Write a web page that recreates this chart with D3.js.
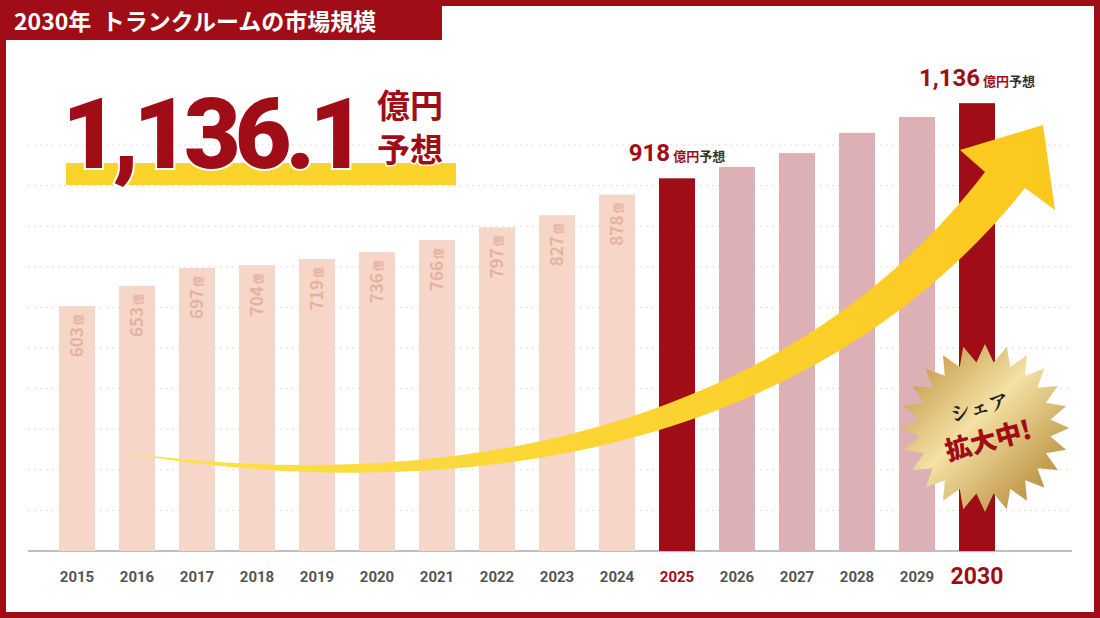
<!DOCTYPE html>
<html><head><meta charset="utf-8">
<script src="https://cdn.jsdelivr.net/npm/d3@7"></script>
<style>body{margin:0;background:#fff}svg{display:block;font-family:"Noto Sans CJK JP","Noto Sans",sans-serif}</style>
</head><body><svg id="c" width="1100" height="618"></svg>
<script>
const years = ['2015','2016','2017','2018','2019','2020','2021','2022','2023','2024','2025','2026','2027','2028','2029','2030'];
const values = [603,653,697,704,719,736,766,797,827,878,918,946,980,1030,1069,1103];
const showLabel = [true,true,true,true,true,true,true,true,true,true,false,false,false,false,false,false];
const gridTicks = [100,200,300,400,500,600,700,800,900,1000];

const svg = d3.select('#c');
const red = '#a00d16';
const x = d3.scaleBand().domain(years).range([47,1007]).paddingInner(0.4).paddingOuter(0.2);
const y = d3.scaleLinear().domain([0,1000]).range([551,145]);

// frame
svg.append('rect').attr('x',3).attr('y',3).attr('width',1094).attr('height',612)
  .attr('fill','none').attr('stroke',red).attr('stroke-width',6);
svg.append('rect').attr('x',0).attr('y',0).attr('width',442).attr('height',40).attr('fill',red);
svg.append('text').attr('x',14).attr('y',30).attr('fill','#fff').attr('font-size',23).attr('font-weight',700)
  .text('2030年  トランクルームの市場規模').attr('xml:space','preserve');

// grid
svg.append('g').selectAll('line').data(gridTicks).join('line')
  .attr('x1',28).attr('x2',1072).attr('y1',d=>y(d)).attr('y2',d=>y(d))
  .attr('stroke','#ddd').attr('stroke-dasharray','2,4');
svg.append('line').attr('x1',28).attr('x2',1072).attr('y1',y(0)).attr('y2',y(0)).attr('stroke','#aaa').attr('stroke-width',1.5);

// bars
const color = (d,i) => (d==='2025'||d==='2030') ? red : (i>10 ? '#dcb0b5' : '#f6d6c8');
svg.append('g').selectAll('rect').data(years).join('rect')
  .attr('x',d=>x(d)).attr('width',x.bandwidth())
  .attr('y',(d,i)=>y(values[i])).attr('height',(d,i)=>y(0)-y(values[i]))
  .attr('fill',color);

// vertical labels in bars
years.forEach((d,i)=>{
  if(!showLabel[i]) return;
  const cx = x(d)+x.bandwidth()/2, ty = y(values[i])+8;
  const t = svg.append('text').attr('transform',`translate(${cx+6},${ty}) rotate(-90)`)
    .attr('text-anchor','end').attr('fill','#e6b2a0').attr('font-weight',700);
  t.append('tspan').attr('font-size',17).text(values[i]);
  t.append('tspan').attr('font-size',11).attr('dx',2).text('億');
});

// x labels
svg.append('g').selectAll('text').data(years).join('text')
  .attr('x',d=>x(d)+x.bandwidth()/2).attr('y',d=>d==='2030'?584:582)
  .attr('text-anchor','middle').attr('font-weight',700)
  .attr('font-size',d=>d==='2030'?23:15)
  .attr('fill',d=>(d==='2025'||d==='2030')?red:'#555')
  .attr('font-family','Roboto, sans-serif')
  .text(d=>d);

// value callouts
function callout(year, num, cy){
  const cx = x(year)+x.bandwidth()/2;
  const t = svg.append('text').attr('x',cx).attr('y',cy).attr('text-anchor','middle').attr('font-weight',700);
  t.append('tspan').attr('fill',red).attr('font-size',24).attr('font-family','Roboto, sans-serif').text(num);
  t.append('tspan').attr('fill',red).attr('font-size',13).attr('dx',3).text('億円');
  t.append('tspan').attr('fill','#333').attr('font-size',13).text('予想');
}
callout('2025','918',161);
callout('2030','1,136',86);

// big headline
svg.append('rect').attr('x',66).attr('y',163).attr('width',390).attr('height',22).attr('fill','#fbd32b');
svg.append('text').attr('x',62).attr('y',168).attr('fill',red).attr('font-size',98).attr('font-weight',900)
  .attr('font-family','Roboto, sans-serif').attr('letter-spacing',-6)
  .attr('stroke','#fff').attr('stroke-width',4).attr('paint-order','stroke').text('1,136.1');
svg.append('text').attr('x',377).attr('y',118).attr('fill',red).attr('font-size',33).attr('font-weight',700).text('億円');
svg.append('text').attr('x',377).attr('y',162).attr('fill',red).attr('font-size',33).attr('font-weight',700)
  .attr('stroke','#fff').attr('stroke-width',3).attr('paint-order','stroke').text('予想');

// arrow
const defs = svg.append('defs');
const g1 = defs.append('linearGradient').attr('id','ag').attr('x1','0').attr('x2','1');
g1.append('stop').attr('offset','0').attr('stop-color','#fbe24a');
g1.append('stop').attr('offset','1').attr('stop-color','#fcc81e');
svg.append('path').attr('fill','url(#ag)')
  .attr('d','M120,452 C430,495 780,440 985,172 L960,150 L1043,125 L1055,210 L1025,188 C800,470 420,505 120,452 Z');

// seal
const g2 = defs.append('linearGradient').attr('id','sg').attr('x1','0').attr('y1','0').attr('x2','1').attr('y2','1');
g2.append('stop').attr('offset','0').attr('stop-color','#b8862e');
g2.append('stop').attr('offset','0.45').attr('stop-color','#f4e1a4');
g2.append('stop').attr('offset','1').attr('stop-color','#a8761f');
const scx=985, scy=428, n=24, pts=[];
for(let k=0;k<n*2;k++){const r=k%2?66:84, a=Math.PI*k/n; pts.push([scx+r*Math.cos(a), scy+r*Math.sin(a)]);}
svg.append('path').attr('d',d3.line()(pts)+'Z').attr('fill','url(#sg)');
svg.append('text').attr('x',scx).attr('y',scy-14).attr('text-anchor','middle').attr('font-size',20)
  .attr('font-family','"Noto Serif CJK JP","Noto Sans CJK JP",serif').attr('font-weight',700).attr('fill','#222')
  .attr('transform',`rotate(-15,${scx},${scy})`).text('シェア');
svg.append('text').attr('x',scx).attr('y',scy+22).attr('text-anchor','middle').attr('font-size',26)
  .attr('font-weight',900).attr('fill',red)
  .attr('transform',`rotate(-15,${scx},${scy})`).text('拡大中!');
</script></body></html>
